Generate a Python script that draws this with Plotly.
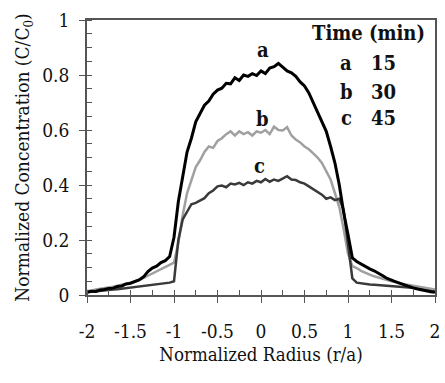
import plotly.graph_objects as go

radius = [round(-2 + 0.05 * i, 2) for i in range(81)]

conc_a = [0.010, 0.014, 0.013, 0.018, 0.020, 0.024, 0.025, 0.031, 0.033, 0.040,
          0.043, 0.050, 0.055, 0.066, 0.085, 0.098, 0.105, 0.118, 0.125, 0.140,
          0.210, 0.340, 0.430, 0.520, 0.570, 0.630, 0.660, 0.690, 0.705, 0.730,
          0.745, 0.752, 0.770, 0.768, 0.790, 0.780, 0.800, 0.795, 0.805, 0.798,
          0.815, 0.805, 0.825, 0.830, 0.842, 0.830, 0.815, 0.808, 0.795, 0.775,
          0.760, 0.735, 0.700, 0.670, 0.630, 0.595, 0.540, 0.480, 0.400, 0.300,
          0.220, 0.135, 0.122, 0.112, 0.102, 0.095, 0.088, 0.080, 0.070, 0.060,
          0.055, 0.048, 0.042, 0.036, 0.030, 0.026, 0.022, 0.018, 0.015, 0.012,
          0.010]

conc_b = [0.015, 0.016, 0.020, 0.022, 0.024, 0.028, 0.030, 0.034, 0.037, 0.042,
          0.045, 0.050, 0.055, 0.062, 0.070, 0.078, 0.085, 0.092, 0.100, 0.108,
          0.118, 0.190, 0.290, 0.370, 0.420, 0.465, 0.490, 0.520, 0.540, 0.535,
          0.560, 0.570, 0.585, 0.595, 0.580, 0.595, 0.585, 0.592, 0.580, 0.595,
          0.590, 0.600, 0.585, 0.612, 0.600, 0.598, 0.610, 0.580, 0.565, 0.555,
          0.540, 0.530, 0.515, 0.500, 0.480, 0.450, 0.420, 0.370, 0.320, 0.240,
          0.150, 0.105, 0.098, 0.088, 0.080, 0.074, 0.068, 0.063, 0.058, 0.055,
          0.050, 0.047, 0.042, 0.038, 0.036, 0.033, 0.030, 0.027, 0.024, 0.022,
          0.020]

conc_c = [0.010, 0.012, 0.012, 0.015, 0.016, 0.018, 0.020, 0.021, 0.023, 0.025,
          0.026, 0.028, 0.030, 0.032, 0.033, 0.035, 0.037, 0.040, 0.042, 0.045,
          0.050, 0.200, 0.275, 0.305, 0.330, 0.335, 0.345, 0.352, 0.370, 0.380,
          0.395, 0.398, 0.392, 0.405, 0.402, 0.408, 0.400, 0.410, 0.405, 0.415,
          0.410, 0.422, 0.412, 0.420, 0.415, 0.425, 0.432, 0.420, 0.418, 0.410,
          0.405, 0.395, 0.385, 0.375, 0.365, 0.350, 0.355, 0.345, 0.350, 0.310,
          0.190, 0.060, 0.045, 0.042, 0.040, 0.038, 0.037, 0.036, 0.035, 0.034,
          0.033, 0.032, 0.030, 0.029, 0.027, 0.025, 0.022, 0.020, 0.017, 0.014,
          0.012]

x_tickvals = [-2, -1.5, -1, -0.5, 0, 0.5, 1, 1.5, 2]
x_ticktext = ["-2", "-1.5", "-1", "-0.5", "0", "0.5", "1", "1.5", "2"]
y_tickvals = [0, 0.2, 0.4, 0.6, 0.8, 1]
y_ticktext = ["0", "0.2", "0.4", "0.6", "0.8", "1"]

curve_labels = ["a", "b", "c"]
legend_title = "Time (min)"
legend_letters = ["a", "b", "c"]
legend_times = ["15", "30", "45"]

FONT = "DejaVu Serif Condensed"

fig = go.Figure()
fig.add_trace(go.Scatter(x=radius, y=conc_b, mode="lines",
                         line=dict(color="#a0a0a0", width=2.5)))
fig.add_trace(go.Scatter(x=radius, y=conc_c, mode="lines",
                         line=dict(color="#3a3a3a", width=2.5)))
fig.add_trace(go.Scatter(x=radius, y=conc_a, mode="lines",
                         line=dict(color="#000000", width=3)))

# curve labels
label_pos = [(0.02, 0.89), (0.02, 0.64), (-0.02, 0.47)]
for txt, (lx, ly) in zip(curve_labels, label_pos):
    fig.add_annotation(x=lx, y=ly, text="<b>%s</b>" % txt, showarrow=False,
                       font=dict(family=FONT, size=20, color="#111"))

# legend block
fig.add_annotation(x=1.235, y=0.953, text="<b>%s</b>" % legend_title, showarrow=False,
                   font=dict(family=FONT, size=20, color="#111"))
row_y = [0.844, 0.738, 0.644]
for letter, t, ry in zip(legend_letters, legend_times, row_y):
    fig.add_annotation(x=0.98, y=ry, text="<b>%s</b>" % letter, showarrow=False,
                       font=dict(family=FONT, size=20, color="#111"))
    fig.add_annotation(x=1.41, y=ry, text="<b>%s</b>" % t, showarrow=False,
                       font=dict(family=FONT, size=20, color="#111"))

axis_common = dict(showgrid=False, zeroline=False, showline=True, linecolor="#555",
                   linewidth=1.5, mirror=True, ticks="outside", ticklen=6,
                   tickcolor="#555", tickwidth=1.2)

fig.update_xaxes(range=[-2, 2], tickvals=x_tickvals, ticktext=x_ticktext,
                 ticklabelstandoff=12,
                 tickfont=dict(family=FONT, size=19, color="#111"),
                 minor=dict(dtick=0.25, ticks="inside", ticklen=5, tickcolor="#555"),
                 title=dict(text="Normalized Radius (r/a)", standoff=8,
                            font=dict(family=FONT, size=18.5, color="#111")),
                 **axis_common)
fig.update_yaxes(range=[0, 1], tickvals=y_tickvals, ticktext=y_ticktext,
                 ticklabelstandoff=6,
                 tickfont=dict(family=FONT, size=19, color="#111"),
                 minor=dict(dtick=0.05, ticks="inside", ticklen=5, tickcolor="#555"),
                 title=dict(text="Normalized Concentration (C/C<sub>0</sub>)", standoff=8,
                            font=dict(family=FONT, size=19, color="#111")),
                 **axis_common)

fig.update_layout(width=445, height=383, showlegend=False,
                  margin=dict(l=87, r=5, t=20, b=88),
                  paper_bgcolor="white", plot_bgcolor="white")

fig.write_html("out.html")
